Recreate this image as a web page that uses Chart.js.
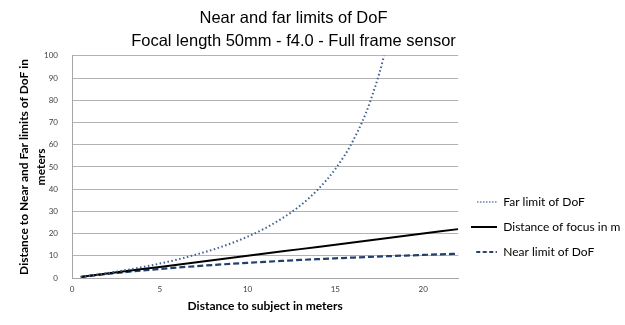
<!DOCTYPE html>
<html>
<head>
<meta charset="utf-8">
<script src="https://cdn.jsdelivr.net/npm/chart.js@4.4.1/dist/chart.umd.min.js"></script>
<style>
  html, body { margin: 0; padding: 0; background: #fff; }
  #wrap { width: 625px; height: 325px; }
</style>
</head>
<body>
<div id="wrap"><canvas id="dof"></canvas></div>
<script>
// distance to subject (m)
const distances = [0.5, 1, 2, 3, 4, 5, 6, 7, 8, 9, 10, 11, 12, 13, 14, 15, 16, 17, 18, 19, 20, 21, 22];
// values
const farLimit = [0.51, 1.05, 2.2, 3.5, 4.9, 6.5, 8.3, 10.4, 12.7, 15.4, 18.6, 22.4, 27.0, 32.6, 39.8, 49.1, 61.7, 79.8, 108, 156, null, null, null];
const focusDist = [0.5, 1, 2, 3, 4, 5, 6, 7, 8, 9, 10, 11, 12, 13, 14, 15, 16, 17, 18, 19, 20, 21, 22];
const nearLimit = [0.49, 0.96, 1.83, 2.63, 3.37, 4.06, 4.7, 5.29, 5.84, 6.35, 6.84, 7.29, 7.71, 8.12, 8.49, 8.85, 9.19, 9.51, 9.82, 10.11, 10.38, 10.65, 10.9];
const yTicks = [0, 10, 20, 30, 40, 50, 60, 70, 80, 90, 100];
const xTicks = [0, 5, 10, 15, 20];

const pts = (ys) => distances.map((d, i) => ({ x: d, y: ys[i] }));

// little line samples for the legend (so dots / dashes show)
function legendLine(color, width, dash, start) {
  const c = document.createElement('canvas');
  c.width = 26; c.height = 4;
  const g = c.getContext('2d');
  g.strokeStyle = color;
  g.lineWidth = width;
  g.setLineDash(dash);
  g.beginPath();
  g.moveTo(start, 2);
  g.lineTo(26, 2);
  g.stroke();
  return c;
}

const tweaks = {
  id: 'tweaks',
  afterLayout(chart) {
    chart.titleBlock.right = 587;   // centre title like the original
    chart.legend.bottom -= 7;       // lift legend a touch
    chart.legend.right = 625;       // let the long label run to the edge
  }
};

const tickFont = { family: 'Lato', size: 8 };

new Chart(document.getElementById('dof'), {
  type: 'line',
  data: {
    datasets: [
      {
        label: 'Far limit of DoF',
        data: pts(farLimit),
        borderColor: '#3d5f92',
        borderWidth: 2,
        borderDash: [1.5, 2.5],
        pointRadius: 0,
        pointStyle: legendLine('#3d5f92', 1.5, [1.2, 1.8], 6),
        cubicInterpolationMode: 'monotone'
      },
      {
        label: 'Distance of focus in m',
        data: pts(focusDist),
        borderColor: '#000000',
        borderWidth: 2,
        pointRadius: 0,
        pointStyle: legendLine('#000000', 2, [], 0)
      },
      {
        label: 'Near limit of DoF',
        data: pts(nearLimit),
        borderColor: '#23406c',
        borderWidth: 2.2,
        borderDash: [6, 3],
        pointRadius: 0,
        pointStyle: legendLine('#23406c', 2, [4, 2.5], 5),
        cubicInterpolationMode: 'monotone'
      }
    ]
  },
  options: {
    responsive: true,
    maintainAspectRatio: false,
    animation: false,
    layout: { padding: { left: 0, right: 14, top: 0, bottom: 12 } },
    plugins: {
      title: {
        display: true,
        text: ['Near and far limits of DoF', 'Focal length 50mm - f4.0 - Full frame sensor'],
        color: '#000',
        font: { family: 'Liberation Sans', size: 16.5, weight: 'normal', lineHeight: 1.45 },
        padding: { top: 6, bottom: 2 }
      },
      legend: {
        position: 'right',
        align: 'end',
        fullSize: false,
        labels: {
          usePointStyle: true,
          pointStyleWidth: 26,
          padding: 13,
          color: '#000',
          font: { family: 'Lato', size: 12 }
        }
      },
      tooltip: { enabled: false }
    },
    scales: {
      x: {
        type: 'linear',
        min: 0,
        max: 22,
        afterBuildTicks(axis) { axis.ticks = xTicks.map(v => ({ value: v })); },
        ticks: { color: '#404040', font: tickFont, padding: 7 },
        grid: { display: false, drawTicks: false },
        border: { color: '#a6a6a6' },
        title: {
          display: true,
          text: 'Distance to subject in meters',
          color: '#000',
          font: { family: 'Lato', size: 12, weight: 'bold' },
          padding: { top: -3, bottom: 0 }
        }
      },
      y: {
        min: 0,
        max: 100,
        afterBuildTicks(axis) { axis.ticks = yTicks.map(v => ({ value: v })); },
        afterFit(axis) { axis.width = 72; },
        ticks: { color: '#404040', font: tickFont, padding: 14 },
        grid: { color: '#b3b3b3', drawTicks: false },
        border: { color: '#a6a6a6' },
        title: {
          display: true,
          text: ['Distance to Near and Far limits of DoF in', 'meters'],
          color: '#000',
          font: { family: 'Lato', size: 12, weight: 'bold', lineHeight: 1.4 },
          padding: { top: 16, bottom: 0 }
        }
      }
    }
  },
  plugins: [tweaks]
});
</script>
</body>
</html>
